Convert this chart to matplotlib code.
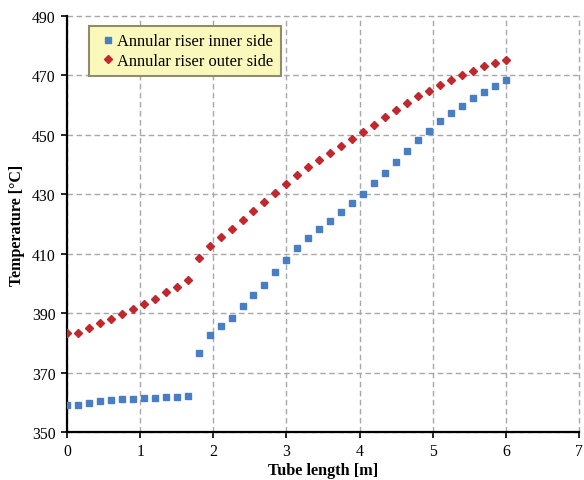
import matplotlib
matplotlib.use("Agg")
import matplotlib.pyplot as plt

tube_length = [0.0, 0.15, 0.3, 0.45, 0.6, 0.75, 0.9, 1.05, 1.2, 1.35, 1.5, 1.65,
               1.8, 1.95, 2.1, 2.25, 2.4, 2.55, 2.7, 2.85, 3.0, 3.15, 3.3, 3.45,
               3.6, 3.75, 3.9, 4.05, 4.2, 4.35, 4.5, 4.65, 4.8, 4.95, 5.1, 5.25,
               5.4, 5.55, 5.7, 5.85, 6.0]

inner_side = [359.0, 359.0, 359.9, 360.5, 360.9, 361.0, 361.1, 361.4, 361.5, 361.8, 361.9, 362.1,
              376.7, 382.8, 385.7, 388.5, 392.4, 396.2, 399.6, 404.0, 408.0, 411.9, 415.3, 418.3,
              421.1, 424.0, 427.1, 430.2, 433.7, 437.3, 440.9, 444.5, 448.3, 451.4, 454.6, 457.4,
              459.8, 462.4, 464.5, 466.6, 468.4]

outer_side = [383.3, 383.3, 385.0, 386.6, 388.1, 389.7, 391.4, 393.2, 394.8, 397.0, 398.9, 401.1,
              408.7, 412.7, 415.5, 418.2, 421.4, 424.5, 427.3, 430.4, 433.6, 436.4, 439.1, 441.5,
              444.0, 446.3, 448.6, 451.1, 453.4, 455.9, 458.4, 460.7, 463.0, 464.9, 466.9, 468.6,
              470.2, 471.6, 473.0, 474.2, 475.2]

x_ticks = [0, 1, 2, 3, 4, 5, 6, 7]
y_ticks = [350, 370, 390, 410, 430, 450, 470, 490]

plt.rcParams['font.family'] = ['Liberation Serif', 'DejaVu Serif']

fig = plt.figure(figsize=(5.84, 4.81), dpi=100)
ax = fig.add_axes([0.1147, 0.0998, 0.8767, 0.8649])

ax.plot(tube_length, inner_side, linestyle='none', marker='s', markersize=5,
        color='#4A7EC2', markeredgecolor='#4A7EC2', label='Annular riser inner side', zorder=3)
ax.plot(tube_length, outer_side, linestyle='none', marker='D', markersize=4.3,
        color='#C0282D', markeredgecolor='#C0282D', label='Annular riser outer side', zorder=3)

ax.set_xlim(0, 7)
ax.set_ylim(350, 490)
ax.set_xticks(x_ticks)
ax.set_yticks(y_ticks)
ax.grid(True, color='#A8A8A8', linestyle=(0, (4, 2.5)), linewidth=1.0)
ax.set_axisbelow(True)
for gl in ax.get_xgridlines() + ax.get_ygridlines():
    gl.set_clip_on(False)

for s in ['top', 'right']:
    ax.spines[s].set_visible(False)
for s in ['left', 'bottom']:
    ax.spines[s].set_linewidth(1.6)
    ax.spines[s].set_color('black')

ax.tick_params(axis='both', direction='out', length=4, width=1.2, labelsize=11.3, colors='black', pad=4)

ax.set_xlabel('Tube length [m]', fontsize=11.7, fontweight='bold', labelpad=2)
ax.set_ylabel('Temperature [°C]', fontsize=11.5, fontweight='bold', labelpad=5)

leg = ax.legend(loc='upper left', bbox_to_anchor=(0.043, 0.976), fontsize=11.9,
                frameon=True, fancybox=False, handlelength=1.4, handletextpad=-0.15,
                borderpad=0.45, labelspacing=0.22, borderaxespad=0)
fr = leg.get_frame()
fr.set_facecolor('#FBF8BC')
fr.set_edgecolor('#8E8C6A')
fr.set_linewidth(1.5)
fr.set_alpha(1)

fig.savefig('out.png', dpi=100)
